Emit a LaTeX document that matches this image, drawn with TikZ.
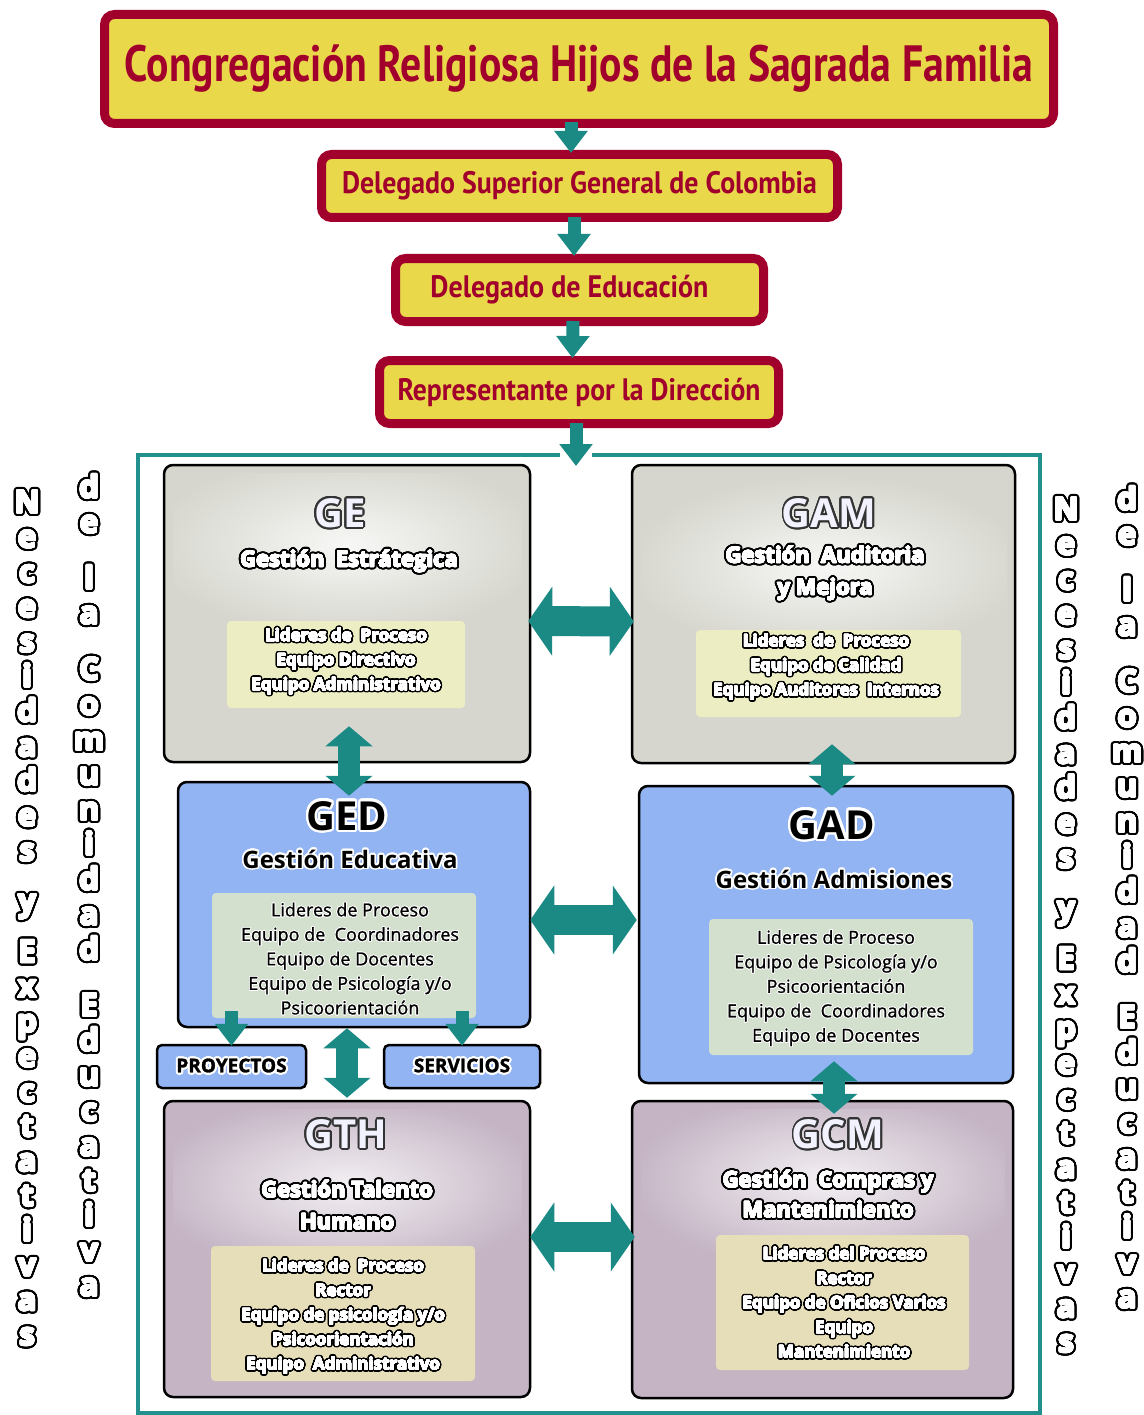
\documentclass[tikz,border=0pt]{standalone}
\usepackage{fontspec}
\usepackage{graphicx}
\usepackage[copies]{contour}
\usetikzlibrary{arrows.meta,calc,positioning}
\setmainfont{Open Sans}
\newfontfamily\redfont{PT Sans}
\newfontfamily\semifont[FakeBold=1.2]{Open Sans}
\newfontfamily\heavyfont[FakeBold=1.5]{Open Sans}
\definecolor{wine}{HTML}{A2002C}
\definecolor{gold}{HTML}{E9D84A}
\definecolor{arrteal}{HTML}{1B8A85}
\definecolor{frameteal}{HTML}{22908C}
\definecolor{stone}{HTML}{D6D6CE}
\definecolor{paleyel}{HTML}{EDEDC3}
\definecolor{sky}{HTML}{92B4F2}
\definecolor{sage}{HTML}{D3E0CE}
\definecolor{lilac}{HTML}{C4B4C4}
\definecolor{sand}{HTML}{E6DDB9}
\contournumber{24}
\def\wout{2pt}\def\win{0.3pt}
\newcommand\wo[1]{\contourlength{\wout}\rlap{\contour{black}{#1}}\contourlength{\win}\contour{white}{#1}}
\newcommand\bo[1]{\contour{white}{#1}}
\tikzset{>=stealth,
  redbox/.style={draw=wine, line width=9pt, fill=gold, rounded corners=10pt, inner sep=0pt, text=wine},
  redbig/.style={font=\redfont\bfseries\fontsize{51}{56}\selectfont},
  redsmall/.style={font=\redfont\bfseries\fontsize{31}{36}\selectfont},
  procbox/.style={draw=black, line width=2.5pt, rounded corners=9pt, inner sep=0pt},
  listbox/.style={rounded corners=4pt, inner sep=0pt},
  hdwhite/.style={text=white!95!blue, font=\bfseries\fontsize{40}{44}\selectfont\contourlength{1.8pt}},
  hdblack/.style={text=black, font=\bfseries\fontsize{40}{44}\selectfont\contourlength{2.4pt}},
  subwhite/.style={text=white, align=center, font=\heavyfont\bfseries\fontsize{22}{32}\selectfont\def\wout{2.6pt}\def\win{0.4pt}},
  subblack/.style={text=black, align=center, font=\bfseries\fontsize{24}{30}\selectfont\contourlength{1.6pt}},
  lstwhite/.style={text=white, align=center, font=\heavyfont\bfseries\fontsize{17}{24.5}\selectfont\def\wout{2.1pt}\def\win{0.3pt}},
  lstblack/.style={text=black, align=center, font=\semifont\fontsize{18}{24.5}\selectfont\contourlength{0.8pt}},
  tagbox/.style={procbox, fill=sky, rounded corners=5pt, font=\heavyfont\bfseries\fontsize{19}{22}\selectfont\contourlength{2pt}},
  sarrow/.style={draw=arrteal, line width=13pt, -{Triangle[width=32pt,length=22pt]}},
  harrow/.style={draw=arrteal, line width=30pt, {Triangle[width=68pt,length=24pt]}-{Triangle[width=68pt,length=24pt]}},
  varrow/.style={draw=arrteal, line width=22pt, {Triangle[width=46pt,length=20pt]}-{Triangle[width=46pt,length=20pt]}},
  sideltr/.style={text=white, inner sep=0pt, text height=23pt, text depth=8pt, font=\heavyfont\bfseries\fontsize{31}{32}\selectfont\def\wout{3.2pt}\def\win{0.8pt}}
}

\begin{document}
\begin{tikzpicture}[x=1pt,y=-1pt]
    \fill[white] (0,0) rectangle (1143,1415);
    \useasboundingbox (0,0) rectangle (1143,1415);

    \node[redbox, redbig, minimum width=949, minimum height=109] (cong) at (579,69) {\resizebox{908pt}{\height}{Congregación Religiosa Hijos de la Sagrada Familia}};
    \node[redbox, redsmall, minimum width=516, minimum height=63] (dsg) at (579.5,186) {\resizebox{475pt}{\height}{Delegado Superior General de Colombia}};
    \node[redbox, redsmall, minimum width=368, minimum height=63] (dedu) at (579.5,290) {\resizebox{278pt}{\height}{Delegado de Educación}\hspace*{20pt}};
    \node[redbox, redsmall, minimum width=399, minimum height=63] (rep) at (579,392) {\resizebox{363pt}{\height}{Representante por la Dirección}};
    \coordinate (gate) at (576,466);

    \draw[frameteal, line width=4pt] (560,455) -- (137.5,455) -- (137.5,1413) -- (1040,1413) -- (1040,455) -- (592,455);

    \node[procbox, fill=stone, minimum width=366, minimum height=297] (GE) at (347,613.5) {};
    \node[procbox, fill=stone, minimum width=383, minimum height=298] (GAM) at (823.5,614) {};
    \node[procbox, fill=sky, minimum width=352, minimum height=245] (GED) at (354,904.5) {};
    \node[procbox, fill=sky, minimum width=374, minimum height=297] (GAD) at (826,934.5) {};
    \node[procbox, fill=lilac, minimum width=366, minimum height=296] (GTH) at (347,1249) {};
    \node[procbox, fill=lilac, minimum width=381, minimum height=297] (GCM) at (822.5,1249.5) {};

    \foreach \b/\cx/\cy/\f in {GE/347/545/stone, GAM/826/565/stone, GTH/347/1185/lilac, GCM/828/1180/lilac}{
        \begin{scope}
            \clip ($(\b.south west)+(10,-10)$) rectangle ($(\b.north east)+(-10,10)$);
            \shade[inner color=white!80!\f, outer color=\f] (\cx,\cy) ellipse [x radius=200pt, y radius=90pt];
        \end{scope}
    }

    \node[listbox, fill=paleyel, minimum width=238, minimum height=87] (GEl) at (346,664.5) {};
    \node[listbox, fill=paleyel, minimum width=265, minimum height=87] (GAMl) at (828.5,673.5) {};
    \node[listbox, fill=sage, minimum width=264, minimum height=125] (GEDl) at (344,955.5) {};
    \node[listbox, fill=sage, minimum width=264, minimum height=136] (GADl) at (841,987) {};
    \node[listbox, fill=sand, minimum width=264, minimum height=135] (GTHl) at (343,1313.5) {};
    \node[listbox, fill=sand, minimum width=253, minimum height=135] (GCMl) at (842.5,1302.5) {};

    \node[hdwhite] (GEh) at (340,514) {\contour{black!80}{GE}};
    \node[subwhite] (GEs) at (349,562) {\wo{Gestión~ Estrátegica}};
    \node[lstwhite] (GEt) at (346,662) {\wo{Lideres de~ Proceso}\\\wo{Equipo Directivo}\\\wo{Equipo Administrativo}};

    \node[hdwhite] (GAMh) at (829,514) {\contour{black!80}{GAM}};
    \node[subwhite] (GAMs) at (825,574) {\wo{Gestión~ Auditoria}\\\wo{y Mejora}};
    \node[lstwhite] (GAMt) at (826,667.5) {\wo{Lideres~ de~ Proceso}\\\wo{Equipo de Calidad}\\\wo{Equipo Auditores~ Internos}};

    \node[hdblack] (GEDh) at (347,817) {\bo{GED}};
    \node[subblack] (GEDs) at (350,860) {\bo{Gestión Educativa}};
    \node[lstblack] (GEDt) at (350,959) {\bo{Lideres de Proceso}\\\bo{Equipo de~ Coordinadores}\\\bo{Equipo de Docentes}\\\bo{Equipo de Psicología y/o}\\\bo{Psicoorientación}};

    \node[hdblack] (GADh) at (832,826) {\bo{GAD}};
    \node[subblack] (GADs) at (834,880) {\bo{Gestión Admisiones}};
    \node[lstblack] (GADt) at (836,988.5) {\bo{Lideres de Proceso}\\\bo{Equipo de Psicología y/o}\\\bo{Psicoorientación}\\\bo{Equipo de~ Coordinadores}\\\bo{Equipo de Docentes}};

    \node[hdwhite] (GTHh) at (346,1135) {\contour{black!80}{GTH}};
    \node[subwhite] (GTHs) at (347,1206) {\wo{Gestión Talento}\\\wo{Humano}};
    \node[lstwhite] (GTHt) at (343,1317) {\wo{Lideres de~ Proceso}\\\wo{Rector}\\\wo{Equipo de psicología y/o}\\\wo{Psicoorientación}\\\wo{Equipo~ Administrativo}};

    \node[hdwhite] (GCMh) at (838,1135) {\contour{black!80}{GCM}};
    \node[subwhite, font=\heavyfont\bfseries\fontsize{22}{30}\selectfont\def\wout{2.6pt}\def\win{0.4pt}] (GCMs) at (828,1195) {\wo{Gestión~ Compras y}\\\wo{Mantenimiento}};
    \node[lstwhite] (GCMt) at (844,1303) {\wo{Lideres del Proceso}\\\wo{Rector}\\\wo{Equipo de Oficios Varios}\\\wo{Equipo}\\\wo{Mantenimiento}};

    \node[tagbox, minimum width=149, minimum height=43] (proy) at (231.5,1066.5) {\bo{PROYECTOS}};
    \node[tagbox, minimum width=156, minimum height=43] (serv) at (462,1066.5) {\bo{SERVICIOS}};

    \draw[sarrow] ($(cong.south)+(-8,-6)$) -- ($(dsg.north)+(-8.5,3)$);
    \draw[sarrow] ($(dsg.south)+(-5.5,-5)$) -- ($(dedu.north)+(-5.5,2)$);
    \draw[sarrow] ($(dedu.south)+(-6.5,-5)$) -- ($(rep.north)+(-6.5,2)$);
    \draw[sarrow] ($(rep.south)+(-3,-5)$) -- (gate);
    \draw[harrow] ($(GE.east)+(-3,7.5)$) -- ($(GAM.west)+(3,7.5)$);
    \draw[harrow] ($(GED.east)+(-1,15.5)$) -- ($(GAD.west)+(-1,-14.5)$);
    \draw[harrow] ($(GTH.east)+(-1,-12)$) -- ($(GCM.west)+(4,-12.5)$);
    \draw[varrow] ($(GE.south)+(2,-37)$) -- ($(GED.north)+(-5,15)$);
    \draw[varrow] ($(GAM.south)+(8.5,-20)$) -- ($(GAD.north)+(6,11)$);
    \draw[varrow] ($(GED.south)+(-7,0)$) -- ($(GTH.north)+(0,-2)$);
    \draw[varrow] ($(GAD.south)+(8,-23)$) -- ($(GCM.north)+(11.5,14)$);
    \draw[sarrow] ($(GED.south -| proy.north)+(0,-17)$) -- ($(proy.north)+(0,2)$);
    \draw[sarrow] ($(GED.south -| serv.north)+(0,-17)$) -- ($(serv.north)+(0,2)$);

    \foreach \xx/\yy in {27/505, 1066/512}
        \foreach \ch/\w [count=\i from 0] in {N/0,e/0,c/0,e/0,s/0,i/0,d/0,a/0,d/0,e/0,s/0,y/1,E/2,x/2,p/2,e/2,c/2,t/2,a/2,t/2,i/2,v/2,a/2,s/2}
            \node[sideltr] (nec-\xx-\i) at (\xx,\yy+34.8*\i+16*\w) {\wo{\ch}};
    \foreach \xx/\yy in {89/490, 1127/502}
        \foreach \ch/\w [count=\i from 0] in {d/0,e/0,l/1,a/1,C/2,o/2,m/2,u/2,n/2,i/2,d/2,a/2,d/2,E/3,d/3,u/3,c/3,a/3,t/3,i/3,v/3,a/3}
            \node[sideltr] (com-\xx-\i) at (\xx,\yy+35*\i+21*\w) {\wo{\ch}};
\end{tikzpicture}
\end{document}
